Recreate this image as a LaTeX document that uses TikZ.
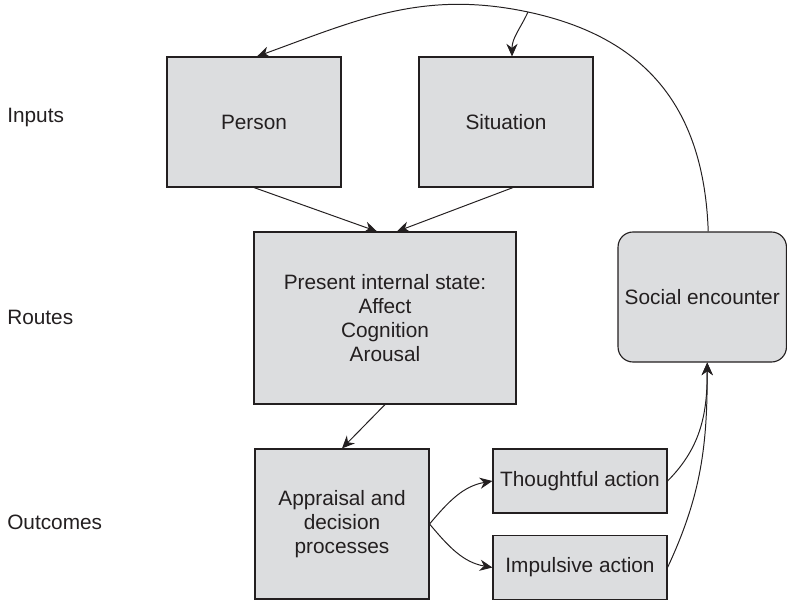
\documentclass[tikz,border=0pt]{standalone}
\usepackage{fontspec}
\setmainfont{Liberation Sans}
\usetikzlibrary{arrows.meta}
\definecolor{boxgray}{RGB}{220,221,223}
\definecolor{inkgray}{RGB}{35,31,32}
\begin{document}
\begin{tikzpicture}[font=\fontsize{14.8}{17}\selectfont,
  statebox/.style={draw=inkgray,fill=boxgray,line width=0.8pt,align=center,inner sep=0pt,text=inkgray},
  rowlabel/.style={anchor=west,inner sep=0pt,text=inkgray},
  link/.style={-{Stealth[length=9pt,width=8pt]},draw=inkgray,line width=0.7pt}]
\useasboundingbox (0,0) rectangle (19.675,15.025);
% row labels
\node[rowlabel] (inputs) at (0.175,12.075) {Inputs};
\node[rowlabel] (routes) at (0.175,7.1) {Routes};
\node[rowlabel] (outcomes) at (0.175,1.975) {Outcomes};
% boxes
\node[statebox,minimum width=4.35cm,minimum height=3.25cm] (person) at (6.35,11.975) {Person};
\node[statebox,minimum width=4.35cm,minimum height=3.25cm] (situation) at (12.65,11.975) {Situation};
\node[statebox,minimum width=6.55cm,minimum height=4.3cm] (present) at (9.625,7.075) {Present internal state:\\Affect\\Cognition\\Arousal};
\node[statebox,rounded corners=0.375cm,minimum width=4.21cm,minimum height=3.25cm] (social) at (17.556,7.6) {Social encounter};
\node[statebox,minimum width=4.35cm,minimum height=3.75cm] (appraisal) at (8.55,1.925) {Appraisal and\\decision\\processes};
\node[statebox,minimum width=4.35cm,minimum height=1.6cm] (thoughtful) at (14.5,3.0) {Thoughtful action};
\node[statebox,minimum width=4.35cm,minimum height=1.6cm] (impulsive) at (14.5,0.8375) {Impulsive action};
\coordinate (junction) at (13.2,14.725);
% connectors
\draw[link] (person.south) -- ([xshift=-0.2cm]present.north);
\draw[link] ([xshift=0.175cm]situation.south) -- ([xshift=0.3cm]present.north);
\draw[link] (present.south) -- (appraisal.north);
\draw[link] (appraisal.east) to[out=50,in=190] (thoughtful.west);
\draw[link] (appraisal.east) to[out=-50,in=170] (impulsive.west);
\draw[link] (thoughtful.east) to[out=45,in=-90] ([xshift=0.125cm]social.south);
\draw[link] (impulsive.east) to[out=65,in=-90] ([xshift=0.125cm]social.south);
\draw[link] ([xshift=0.15cm]social.north) to[out=92,in=-12,looseness=1.1] (junction) to[out=168,in=20] ([xshift=0.075cm]person.north);
\draw[link] (junction) to[out=-115,in=90] ([xshift=0.15cm]situation.north);
\end{tikzpicture}
\end{document}
